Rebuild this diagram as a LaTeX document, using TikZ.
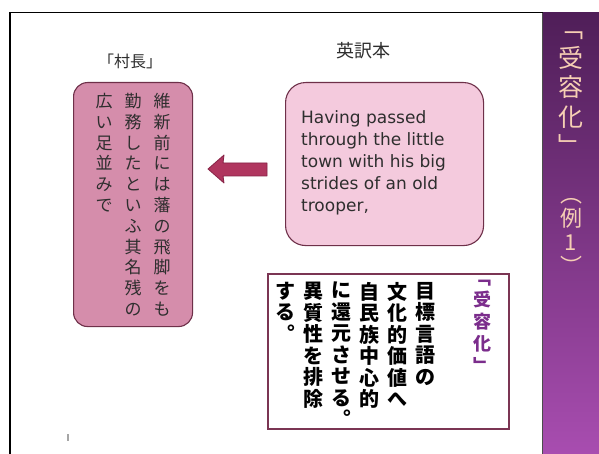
\documentclass[tikz,border=0pt]{standalone}
\usepackage{fontspec}
\setmainfont{DejaVu Sans}
\newfontfamily\jp{Noto Sans CJK JP}
\usetikzlibrary{shadings}
\definecolor{lboxfill}{HTML}{D58DAB}
\definecolor{rboxfill}{HTML}{F4CADD}
\definecolor{boxline}{HTML}{6E3049}
\definecolor{arrowfill}{HTML}{B0365F}
\definecolor{arrowline}{HTML}{862346}
\definecolor{bandtop}{HTML}{4F1E58}
\definecolor{bandbot}{HTML}{A84DB0}
\definecolor{bandtext}{HTML}{F6CFB4}
\definecolor{purpletext}{HTML}{7B2D8C}
\definecolor{frameline}{HTML}{7B3553}
\definecolor{textdark}{HTML}{2E2E2E}
\makeatletter
\newcommand\vtcol[2]{\vbox{\baselineskip=#1\lineskiplimit=-100pt\lineskip=0pt\vt@aux#2\relax}}
\def\vt@aux#1{\ifx#1\relax\else\hbox to 1em{\hss#1\hss}\expandafter\vt@aux\fi}
\makeatother
\tikzset{
  lbox/.style={draw=boxline, line width=1.1pt, fill=lboxfill, rounded corners=14pt, anchor=north west, inner sep=0pt},
  rbox/.style={draw=boxline, line width=1.1pt, fill=rboxfill, rounded corners=20pt, anchor=north west, inner sep=0pt},
  bbox/.style={draw=frameline, line width=2.4pt, fill=white, anchor=north west, inner sep=0pt},
  vcol/.style={anchor=north, inner sep=0pt, text=textdark, font=\jp\fontsize{17}{17}\selectfont},
  bcol/.style={anchor=north, inner sep=0pt, text=black, font=\jp\bfseries\fontsize{20}{20}\selectfont},
  head/.style={inner sep=0pt, text=textdark, font=\jp\fontsize{16}{16}\selectfont},
}
\begin{document}
\begin{tikzpicture}[x=1pt,y=-1pt]
\useasboundingbox (0,0) rectangle (599,454);
\fill[white] (0,0) rectangle (599,454);
% purple band
\shade[top color=bandtop, bottom color=bandbot] (543,12.5) rectangle (599,454);
\draw[line width=0.8pt, black!70] (542.8,12.5) -- (542.8,454);
% frame
\draw[line width=1.5pt] (10,454) -- (10,12.5) -- (543,12.5);
% headers
\node[head] (h1) at (130,61) {「村長」};
\node[head, font=\jp\fontsize{18}{18}\selectfont] (h2) at (363,51) {英訳本};
% left box
\node[lbox, minimum width=119pt, minimum height=244pt] (lb) at (73,82) {};
\node[vcol] (l1) at (162,93) {\vtcol{20.8pt}{維新前には藩の飛脚をも}};
\node[vcol] (l2) at (133,93) {\vtcol{20.8pt}{勤務したといふ其名残の}};
\node[vcol] (l3) at (104,93) {\vtcol{20.8pt}{広い足並みで}};
% right box
\node[rbox, minimum width=198pt, minimum height=163pt] (rb) at (285,82) {};
\node[anchor=north west, inner sep=0pt, align=left, text=textdark,
      font=\fontsize{17}{22}\selectfont] (rt) at (301,110)
  {Having passed\\through the little\\town with his big\\strides of an old\\trooper,};
% arrow
\coordinate (at) at (208,169);
\fill[arrowfill, draw=arrowline, line width=0.8pt, line join=round]
  (at) -- (224,155) -- (223,163) -- (267,163) -- (267,176) -- (223,176) -- (224,183) -- cycle;
% bottom box
\node[bbox, minimum width=241pt, minimum height=155pt] (bb) at (267,273) {};
\node[anchor=north, inner sep=0pt, text=purpletext, font=\jp\bfseries\fontsize{18}{18}\selectfont] (b0) at (482,280) {\vtcol{22pt}{﹁受容化﹂}};
\node[bcol] (b1) at (425,282) {\vtcol{21.5pt}{目標言語の}};
\node[bcol] (b2) at (397,282) {\vtcol{21.5pt}{文化的価値へ}};
\node[bcol] (b3) at (369,282) {\vtcol{21.5pt}{自民族中心的}};
\node[bcol] (b4) at (341,282) {\vtcol{21.5pt}{に還元させる︒}};
\node[bcol] (b5) at (313,282) {\vtcol{21.5pt}{異質性を排除}};
\node[bcol] (b6) at (285,282) {\vtcol{21.5pt}{する︒}};
% band text
\node[anchor=north, inner sep=0pt, text=bandtext, font=\jp\fontsize{25}{25}\selectfont] (t1) at (571,32) {\vtcol{29.5pt}{﹁受容化﹂}};
\node[anchor=north, inner sep=0pt, text=bandtext, font=\jp\fontsize{22}{22}\selectfont] (t2) at (571,198) {\vtcol{24pt}{︵例1︶}};
% small mark
\fill[black!35] (66.5,434) rectangle (69,441);
\end{tikzpicture}
\end{document}
